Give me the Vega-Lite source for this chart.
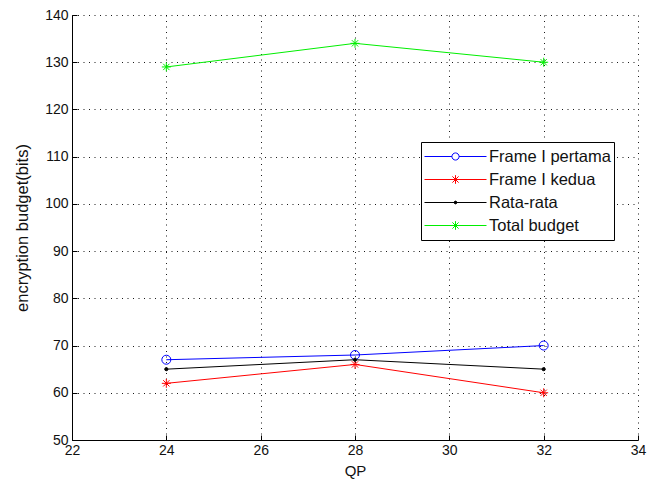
{
  "$schema": "https://vega.github.io/schema/vega-lite/v6.json",
  "width": 566,
  "height": 425,
  "autosize": {"type": "none"},
  "padding": {"left": 72, "top": 15, "right": 16, "bottom": 43},
  "background": "white",
  "config": {
    "view": {"stroke": null},
    "font": "Liberation Sans",
    "axis": {
      "domainColor": "black",
      "domainWidth": 1,
      "tickColor": "black",
      "tickSize": -5,
      "labelFontSize": 14,
      "labelColor": "#111111",
      "labelFont": "Liberation Sans",
      "titleFont": "Liberation Sans",
      "titleFontSize": 15,
      "titleFontWeight": "normal",
      "titleColor": "#111111",
      "grid": true,
      "gridColor": "black",
      "gridDash": [1, 4.5],
      "gridOpacity": 0.9,
      "labelFlush": false
    }
  },
  "data": {
    "values": [
      {"series": "Frame I pertama", "QP": 24, "bits": 67},
      {"series": "Frame I pertama", "QP": 28, "bits": 68},
      {"series": "Frame I pertama", "QP": 32, "bits": 70},
      {"series": "Frame I kedua", "QP": 24, "bits": 62},
      {"series": "Frame I kedua", "QP": 28, "bits": 66},
      {"series": "Frame I kedua", "QP": 32, "bits": 60},
      {"series": "Rata-rata", "QP": 24, "bits": 65},
      {"series": "Rata-rata", "QP": 28, "bits": 67},
      {"series": "Rata-rata", "QP": 32, "bits": 65},
      {"series": "Total budget", "QP": 24, "bits": 129},
      {"series": "Total budget", "QP": 28, "bits": 134},
      {"series": "Total budget", "QP": 32, "bits": 130}
    ]
  },
  "encoding": {
    "x": {
      "field": "QP", "type": "quantitative",
      "scale": {"domain": [22, 34], "nice": false, "zero": false},
      "axis": {"values": [22, 24, 26, 28, 30, 32, 34], "title": "QP", "labelPadding": 8, "titlePadding": 6}
    },
    "y": {
      "field": "bits", "type": "quantitative",
      "scale": {"domain": [50, 140], "nice": false, "zero": false},
      "axis": {"values": [50, 60, 70, 80, 90, 100, 110, 120, 130, 140], "title": "encryption budget(bits)", "titleFontSize": 16.5, "labelPadding": 9, "titlePadding": 14}
    }
  },
  "layer": [
    {
      "mark": {"type": "line", "strokeWidth": 1},
      "encoding": {
        "color": {
          "field": "series", "type": "nominal",
          "scale": {
            "domain": ["Frame I pertama", "Frame I kedua", "Rata-rata", "Total budget"],
            "range": ["#0000ff", "#ff0000", "#000000", "#00ee00"]
          },
          "legend": {
            "title": null,
            "orient": "none",
            "legendX": 349,
            "legendY": 127,
            "strokeColor": "black",
            "fillColor": "white",
            "padding": 3,
            "clipHeight": 23,
            "rowPadding": 0,
            "labelFontSize": 16.5,
            "labelFont": "Liberation Sans",
            "labelColor": "#111111",
            "labelOffset": 2,
            "symbolStrokeWidth": 1,
            "symbolSize": 3844,
            "encode": {
              "symbols": {
                "update": {
                  "shape": {"signal": "datum.value === 'Frame I pertama' ? 'M-1,0H-0.115M0.115,0H1M0.115,0A0.115,0.115 0 1,1 -0.115,0A0.115,0.115 0 1,1 0.115,0' : datum.value === 'Rata-rata' ? 'M-1,0H1M0.045,0A0.045,0.045 0 1,1 -0.045,0A0.045,0.045 0 1,1 0.045,0' : 'M-1,0H1M0,-0.14V0.14M-0.1,-0.1L0.1,0.1M-0.1,0.1L0.1,-0.1'"},
                  "fill": {"signal": "datum.value === 'Rata-rata' ? 'black' : 'transparent'"},
                  "size": {"value": 3844},
                  "strokeWidth": {"value": 1}
                }
              }
            }
          }
        }
      }
    },
    {
      "transform": [{"filter": "datum.series === 'Frame I pertama'"}],
      "mark": {"type": "point", "shape": "circle", "size": 81, "filled": false, "stroke": "#0000ff", "strokeWidth": 1, "opacity": 1}
    },
    {
      "transform": [{"filter": "datum.series === 'Frame I kedua'"}],
      "mark": {"type": "point", "shape": "M-1,0H1M0,-1V1M-0.7,-0.7L0.7,0.7M-0.7,0.7L0.7,-0.7", "size": 81, "filled": false, "stroke": "#ff0000", "strokeWidth": 1, "opacity": 1}
    },
    {
      "transform": [{"filter": "datum.series === 'Rata-rata'"}],
      "mark": {"type": "point", "shape": "circle", "size": 10, "filled": true, "fill": "#000000", "stroke": "#000000", "strokeWidth": 1, "opacity": 1}
    },
    {
      "transform": [{"filter": "datum.series === 'Total budget'"}],
      "mark": {"type": "point", "shape": "M-1,0H1M0,-1V1M-0.7,-0.7L0.7,0.7M-0.7,0.7L0.7,-0.7", "size": 81, "filled": false, "stroke": "#00ee00", "strokeWidth": 1, "opacity": 1}
    }
  ]
}
